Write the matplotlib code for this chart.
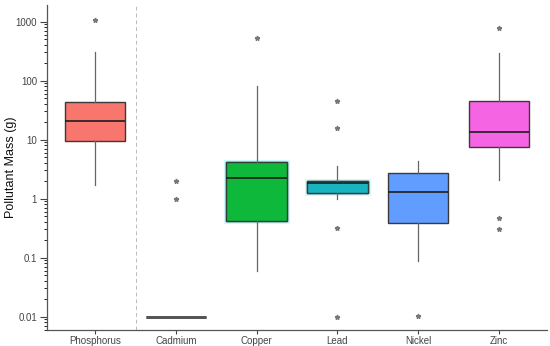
import matplotlib.pyplot as plt
import matplotlib.patheffects as pe
from matplotlib.ticker import FixedLocator, FixedFormatter, LogLocator, NullFormatter

plt.rcParams['font.family'] = ['Liberation Sans', 'DejaVu Sans']

pollutants = ["Phosphorus", "Cadmium", "Copper", "Lead", "Nickel", "Zinc"]
colors = ["#F8766D", "#555555", "#0DB83B", "#19B4C2", "#619CFF", "#F564E3"]

# box stats (g)
whislo = [1.68, 0.01, 0.059, 1.0, 0.087, 2.04]
q1 = [9.4, 0.01, 0.41, 1.22, 0.39, 7.4]
med = [21, 0.01, 2.27, 1.82, 1.30, 13.5]
q3 = [44, 0.01, 4.17, 1.96, 2.69, 45.8]
whishi = [305, 0.01, 80, 3.6, 4.34, 298]
fliers = [
    [1040],
    [2.0, 1.0],
    [525],
    [44.6, 15.7, 0.32, 0.01],
    [0.0103],
    [790, 0.47, 0.31],
]
glow = [False, False, True, True, False, False]

stats = []
for i, name in enumerate(pollutants):
    stats.append(dict(label=name, whislo=whislo[i], q1=q1[i], med=med[i],
                      q3=q3[i], whishi=whishi[i], fliers=fliers[i]))

fig, ax = plt.subplots(figsize=(5.5, 3.46), dpi=100)
fig.subplots_adjust(left=0.085, right=0.995, top=0.985, bottom=0.046)

pos = list(range(len(pollutants)))
bp = ax.bxp(stats, positions=pos, widths=0.75, patch_artist=True, showcaps=False,
            boxprops=dict(edgecolor="#3a3a3a", linewidth=1.0),
            medianprops=dict(color="#1e1e1e", linewidth=1.2),
            whiskerprops=dict(color="#666666", linewidth=0.9),
            flierprops=dict(marker="*", markersize=3.5, markerfacecolor="#777777",
                            markeredgecolor="#777777", linestyle="none"))

for i, box in enumerate(bp["boxes"]):
    box.set_facecolor(colors[i])
    if i == 1:
        box.set_edgecolor("#555555")
        box.set_linewidth(2.0)
        bp["medians"][i].set_color("#555555")
        bp["medians"][i].set_linewidth(2.0)
    if glow[i]:
        box.set_path_effects([pe.withStroke(linewidth=3.5, foreground="#c8fbfb"), pe.Normal()])

ax.axvline(0.5, color="#bbbbbb", linestyle="--", linewidth=0.7, dashes=(4, 3))

ax.set_yscale("log")
ax.set_ylim(0.0059, 1890)
ax.set_xlim(-0.6, 5.6)

yt = [0.01, 0.1, 1, 10, 100, 1000]
ax.yaxis.set_major_locator(FixedLocator(yt))
ax.yaxis.set_major_formatter(FixedFormatter(["0.01", "0.1", "1", "10", "100", "1000"]))
ax.yaxis.set_minor_locator(LogLocator(base=10, subs=range(2, 10)))
ax.yaxis.set_minor_formatter(NullFormatter())

ax.set_xticks(pos)
ax.set_xticklabels(pollutants)
ax.tick_params(axis="both", labelsize=7, colors="#444444", labelcolor="#444444", width=0.8)
ax.tick_params(axis="y", which="major", length=5, pad=2)
ax.tick_params(axis="y", which="minor", length=2.5, width=0.6)
ax.tick_params(axis="x", length=3, pad=1.5)

for s in ["top", "right"]:
    ax.spines[s].set_visible(False)
for s in ["left", "bottom"]:
    ax.spines[s].set_color("#555555")
    ax.spines[s].set_linewidth(0.9)

ax.set_ylabel("Pollutant Mass (g)", fontsize=9, color="#111111")
ax.yaxis.set_label_coords(-0.06, 0.5)

fig.savefig("out.png", dpi=100)
